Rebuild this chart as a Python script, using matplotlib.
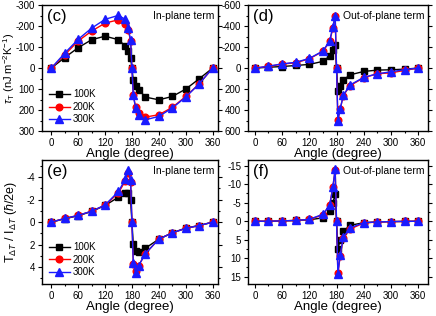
import numpy as np
import matplotlib
matplotlib.use('Agg')
import matplotlib.pyplot as plt
from matplotlib.ticker import MultipleLocator, AutoMinorLocator

plt.rcParams['font.family'] = ['Liberation Sans', 'DejaVu Sans']
plt.rcParams['axes.unicode_minus'] = False
plt.rcParams['mathtext.fontset'] = 'custom'
plt.rcParams['mathtext.rm'] = 'Liberation Sans'
plt.rcParams['mathtext.it'] = 'Liberation Sans:italic'

# angles (degree)
angle = [0, 30, 60, 90, 120, 150, 165, 172, 177, 180, 183, 188, 195, 210, 240, 270, 300, 330, 360]
labels = ['100K', '200K', '300K']

# (c) in-plane thermal torque, nJ m^-2 K^-1
c_100 = [0, -50, -97, -135, -152, -135, -105, -81, -49, 0, 59, 86, 102, 138, 151, 135, 100, 51, 0]
c_200 = [0, -63, -129, -176, -214, -230, -208, -179, -129, 0, 130, 183, 214, 233, 222, 187, 135, 75, 0]
c_300 = [0, -71, -137, -190, -232, -251, -232, -190, -132, 0, 127, 190, 225, 246, 230, 190, 138, 75, 0]

# (d) out-of-plane
d_100 = [0, -8, -15, -25, -35, -64, -115, -170, -217, 0, 214, 172, 112, 64, 32, 19, 16, 10, 0]
d_200 = [0, -16, -38, -51, -89, -159, -255, -382, -497, 0, 490, 390, 261, 166, 92, 54, 45, 22, 0]
d_300 = [0, -18, -40, -55, -92, -163, -260, -395, -500, 0, 500, 390, 258, 160, 88, 54, 35, 15, 0]

# (e) in-plane, hbar/2e
e_100 = [0, -0.30, -0.57, -0.95, -1.48, -2.22, -2.60, -2.58, -1.93, 0, 1.98, 2.52, 2.67, 2.31, 1.51, 0.95, 0.53, 0.30, 0]
e_200 = [0, -0.33, -0.60, -0.97, -1.50, -2.60, -3.65, -4.36, -3.60, 0, 3.70, 4.36, 3.85, 2.80, 1.50, 0.95, 0.55, 0.30, 0]
e_300 = [0, -0.33, -0.60, -0.97, -1.52, -2.73, -3.80, -4.65, -3.76, 0, 3.65, 4.50, 3.85, 2.80, 1.50, 0.95, 0.55, 0.30, 0]

# (f) out-of-plane
f_100 = [0, 0.05, -0.1, -0.2, -0.4, -0.9, -2.9, -5.0, -7.3, 0, 7.5, 5.2, 2.7, 1.1, 0.4, 0.2, 0.1, 0.05, 0]
f_200 = [0, 0, -0.1, -0.2, -0.5, -1.7, -4.5, -9.3, -13.9, 0, 14.1, 9.5, 4.5, 2.1, 0.5, 0.2, 0.1, 0.05, 0]
f_300 = [0, 0, -0.1, -0.2, -0.5, -1.9, -4.3, -9.3, -14.2, 0, 14.2, 9.2, 4.3, 1.8, 0.4, 0.2, 0.1, 0.05, 0]

styles = [dict(color='black', marker='s', ms=4.2),
          dict(color='red', marker='o', ms=4.8),
          dict(color='#1a1aff', marker='^', ms=5.2)]

fig = plt.figure(figsize=(4.36, 3.16), dpi=100)
ax_c = fig.add_axes([0.096, 0.585, 0.404, 0.399])
ax_d = fig.add_axes([0.569, 0.585, 0.413, 0.399])
ax_e = fig.add_axes([0.096, 0.101, 0.404, 0.392])
ax_f = fig.add_axes([0.569, 0.101, 0.413, 0.392])

panels = [
    (ax_c, [c_100, c_200, c_300], (300, -300), 100, '(c)', 'In-plane term', (-21, 372)),
    (ax_d, [d_100, d_200, d_300], (600, -600), 200, '(d)', 'Out-of-plane term', (-15, 382)),
    (ax_e, [e_100, e_200, e_300], (5.5, -5.5), 2, '(e)', 'In-plane term', (-21, 372)),
    (ax_f, [f_100, f_200, f_300], (17, -16.5), 5, '(f)', 'Out-of-plane term', (-15, 382)),
]

for ax, series, ylim, ystep, tag, term, xlim in panels:
    for vals, st, lab in zip(series, styles, labels):
        ax.plot(angle, vals, lw=1, mec=st['color'], label=lab, **st)
    ax.set_xlim(*xlim)
    ax.set_ylim(*ylim)
    ax.xaxis.set_major_locator(MultipleLocator(60))
    ax.xaxis.set_minor_locator(AutoMinorLocator(2))
    ax.yaxis.set_major_locator(MultipleLocator(ystep))
    ax.yaxis.set_minor_locator(AutoMinorLocator(2))
    ax.tick_params(which='both', direction='out', labelsize=7, width=0.8, pad=2)
    ax.tick_params(which='major', length=3)
    ax.tick_params(which='minor', length=1.5)
    ax.tick_params(which='both', right=True, top=False)
    for sp in ax.spines.values():
        sp.set_linewidth(1)
    ax.set_xlabel('Angle (degree)', fontsize=9.5, labelpad=0)
    ax.text(0.03, 0.97, tag, transform=ax.transAxes, fontsize=12, ha='left', va='top')
    ax.text(0.98, 0.95, term, transform=ax.transAxes, fontsize=7.5, ha='right', va='top')

ax_c.set_ylabel(r'$\tau_{\rm T}$ (nJ m$^{-2}$K$^{-1}$)', fontsize=8)
ax_c.yaxis.set_label_coords(-0.14, 0.5)
ax_e.set_ylabel(r'T$_{\Delta T}$ / I$_{\Delta T}$ ($\hbar$/2e)', fontsize=9)
ax_e.yaxis.set_label_coords(-0.13, 0.5)

for ax in (ax_c, ax_e):
    ax.legend(loc='lower left', frameon=False, fontsize=7, handlelength=2.2,
              labelspacing=0.25, handletextpad=0.3, borderaxespad=0.3)

fig.savefig('out.png', dpi=100)
